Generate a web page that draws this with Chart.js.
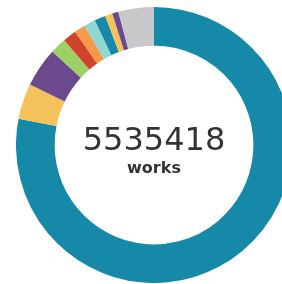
<!DOCTYPE html>
<html>
    <head>
        <meta charset="utf-8">
        <script src="https://cdn.jsdelivr.net/npm/chart.js@4.4.0/dist/chart.umd.min.js"></script>
        <style>
            body { margin: 0; width: 282px; height: 284px; overflow: hidden; background: #fff; position: relative; }
            #wrap { position: absolute; left: 16px; top: 7px; width: 276px; height: 276px; }
            .center { position: absolute; left: 0; width: 308px; text-align: center; font-family: "DejaVu Sans", sans-serif; color: #333; }
            #total { top: 123px; font-size: 32px; line-height: 32px; }
            #unit { top: 160px; font-size: 16px; line-height: 16px; font-weight: bold; }
        </style>
    </head>
    <body>
        <div id="wrap"><canvas id="worksChart" width="276" height="276"></canvas></div>
        <div class="center" id="total">5535418</div>
        <div class="center" id="unit">works</div>

        <script type="text/javascript">
        // segment counts, clockwise from the top
        var labels = ['A', 'B', 'C', 'D', 'E', 'F', 'G', 'H', 'I', 'J', 'Other'];
        var counts = [4320698, 230640, 255240, 104560, 87640, 72270, 73810, 72270, 47670, 39980, 230640];
        var colours = ['#1789a8', '#f4c15a', '#6a4a8c', '#9cd265', '#d0422a', '#f7994a',
                       '#8fd8d2', '#1789a8', '#f4c15a', '#6a4a8c', '#c8c8ca'];

        const config = {
            type: 'doughnut',
            data: {
                labels: labels,
                datasets: [{
                    data: counts,
                    backgroundColor: colours,
                    borderWidth: 0
                }]
            },
            options: {
                responsive: false,
                animation: false,
                cutout: '72%',
                plugins: {
                    legend: { display: false },
                    tooltip: { enabled: false }
                }
            }
        };

        new Chart(document.getElementById('worksChart'), config);
        </script>
    </body>
</html>
